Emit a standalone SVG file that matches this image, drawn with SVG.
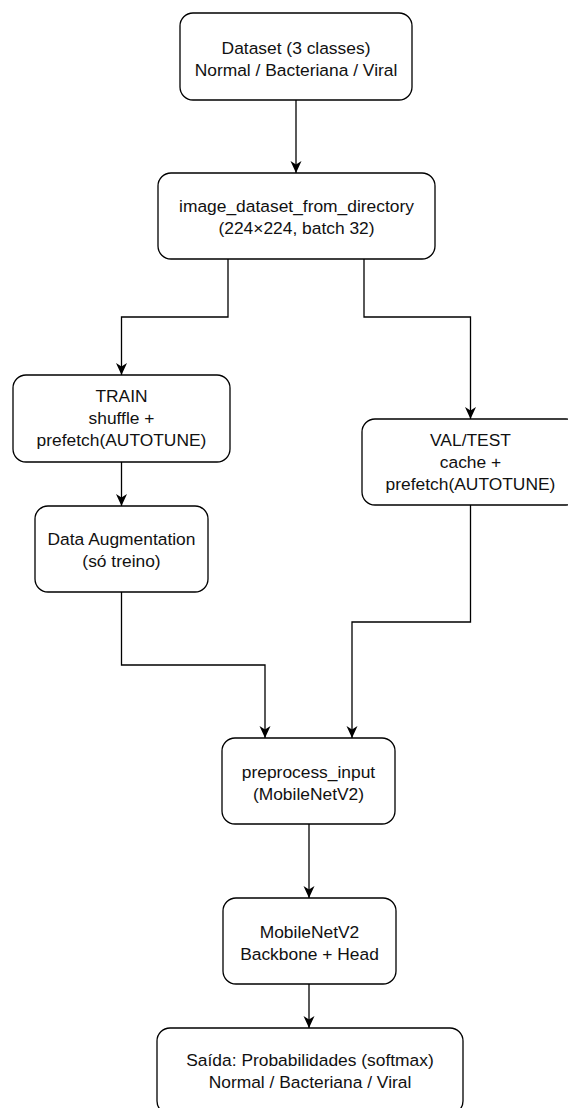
<svg xmlns="http://www.w3.org/2000/svg" width="568" height="1108" viewBox="0 0 568 1108">
<defs>
<style>
.box{fill:#fff;stroke:#000;stroke-width:1.3}
.t{font-family:"Liberation Sans",Arial,sans-serif;font-size:17.4px;fill:#111;text-anchor:middle}
.c{fill:none;stroke:#000;stroke-width:1.3}
</style>
<marker id="ar" markerUnits="userSpaceOnUse" markerWidth="14" markerHeight="14" viewBox="0 0 14 14" refX="12" refY="7" orient="auto">
<path d="M0,1.5 L12,7 L0,12.5 L3.5,7 z" fill="#000"/>
</marker>
</defs>
<rect width="568" height="1108" fill="#fff"/>
<g id="connectors">
<path class="c" d="M296,100 V173" marker-end="url(#ar)"/>
<path class="c" d="M228,259 V317 H121.5 V375" marker-end="url(#ar)"/>
<path class="c" d="M364,259 V317 H470.5 V419" marker-end="url(#ar)"/>
<path class="c" d="M121.5,462 V506" marker-end="url(#ar)"/>
<path class="c" d="M121.5,592 V665 H265 V738" marker-end="url(#ar)"/>
<path class="c" d="M470.5,505 V622 H352 V738" marker-end="url(#ar)"/>
<path class="c" d="M309,824 V898" marker-end="url(#ar)"/>
<path class="c" d="M309,984 V1028" marker-end="url(#ar)"/>
</g>
<g id="dataset">
<rect class="box" x="180" y="13" width="232" height="87" rx="13"/>
<text class="t" x="296" y="53.5">Dataset (3 classes)</text>
<text class="t" x="296" y="75.5">Normal / Bacteriana / Viral</text>
</g>
<g id="loader">
<rect class="box" x="158" y="173" width="277" height="86" rx="13"/>
<text class="t" x="296.5" y="211.5">image_dataset_from_directory</text>
<text class="t" x="296.5" y="233.5">(224×224, batch 32)</text>
</g>
<g id="train">
<rect class="box" x="13" y="375" width="217" height="87" rx="13"/>
<text class="t" x="121.5" y="402">TRAIN</text>
<text class="t" x="121.5" y="424">shuffle +</text>
<text class="t" x="121.5" y="446">prefetch(AUTOTUNE)</text>
</g>
<g id="augmentation">
<rect class="box" x="35" y="506" width="173" height="86" rx="13"/>
<text class="t" x="121.5" y="545">Data Augmentation</text>
<text class="t" x="121.5" y="567">(só treino)</text>
</g>
<g id="valtest">
<rect class="box" x="362" y="419" width="217" height="86" rx="13"/>
<text class="t" x="470.5" y="446">VAL/TEST</text>
<text class="t" x="470.5" y="468">cache +</text>
<text class="t" x="470.5" y="490">prefetch(AUTOTUNE)</text>
</g>
<g id="preprocess">
<rect class="box" x="222" y="738" width="173" height="86" rx="13"/>
<text class="t" x="308.5" y="778">preprocess_input</text>
<text class="t" x="308.5" y="800">(MobileNetV2)</text>
</g>
<g id="model">
<rect class="box" x="223" y="898" width="173" height="86" rx="13"/>
<text class="t" x="309.5" y="938">MobileNetV2</text>
<text class="t" x="309.5" y="960">Backbone + Head</text>
</g>
<g id="output">
<rect class="box" x="157" y="1028" width="306" height="86" rx="13"/>
<text class="t" x="310" y="1066">Saída: Probabilidades (softmax)</text>
<text class="t" x="310" y="1088">Normal / Bacteriana / Viral</text>
</g>
</svg>
